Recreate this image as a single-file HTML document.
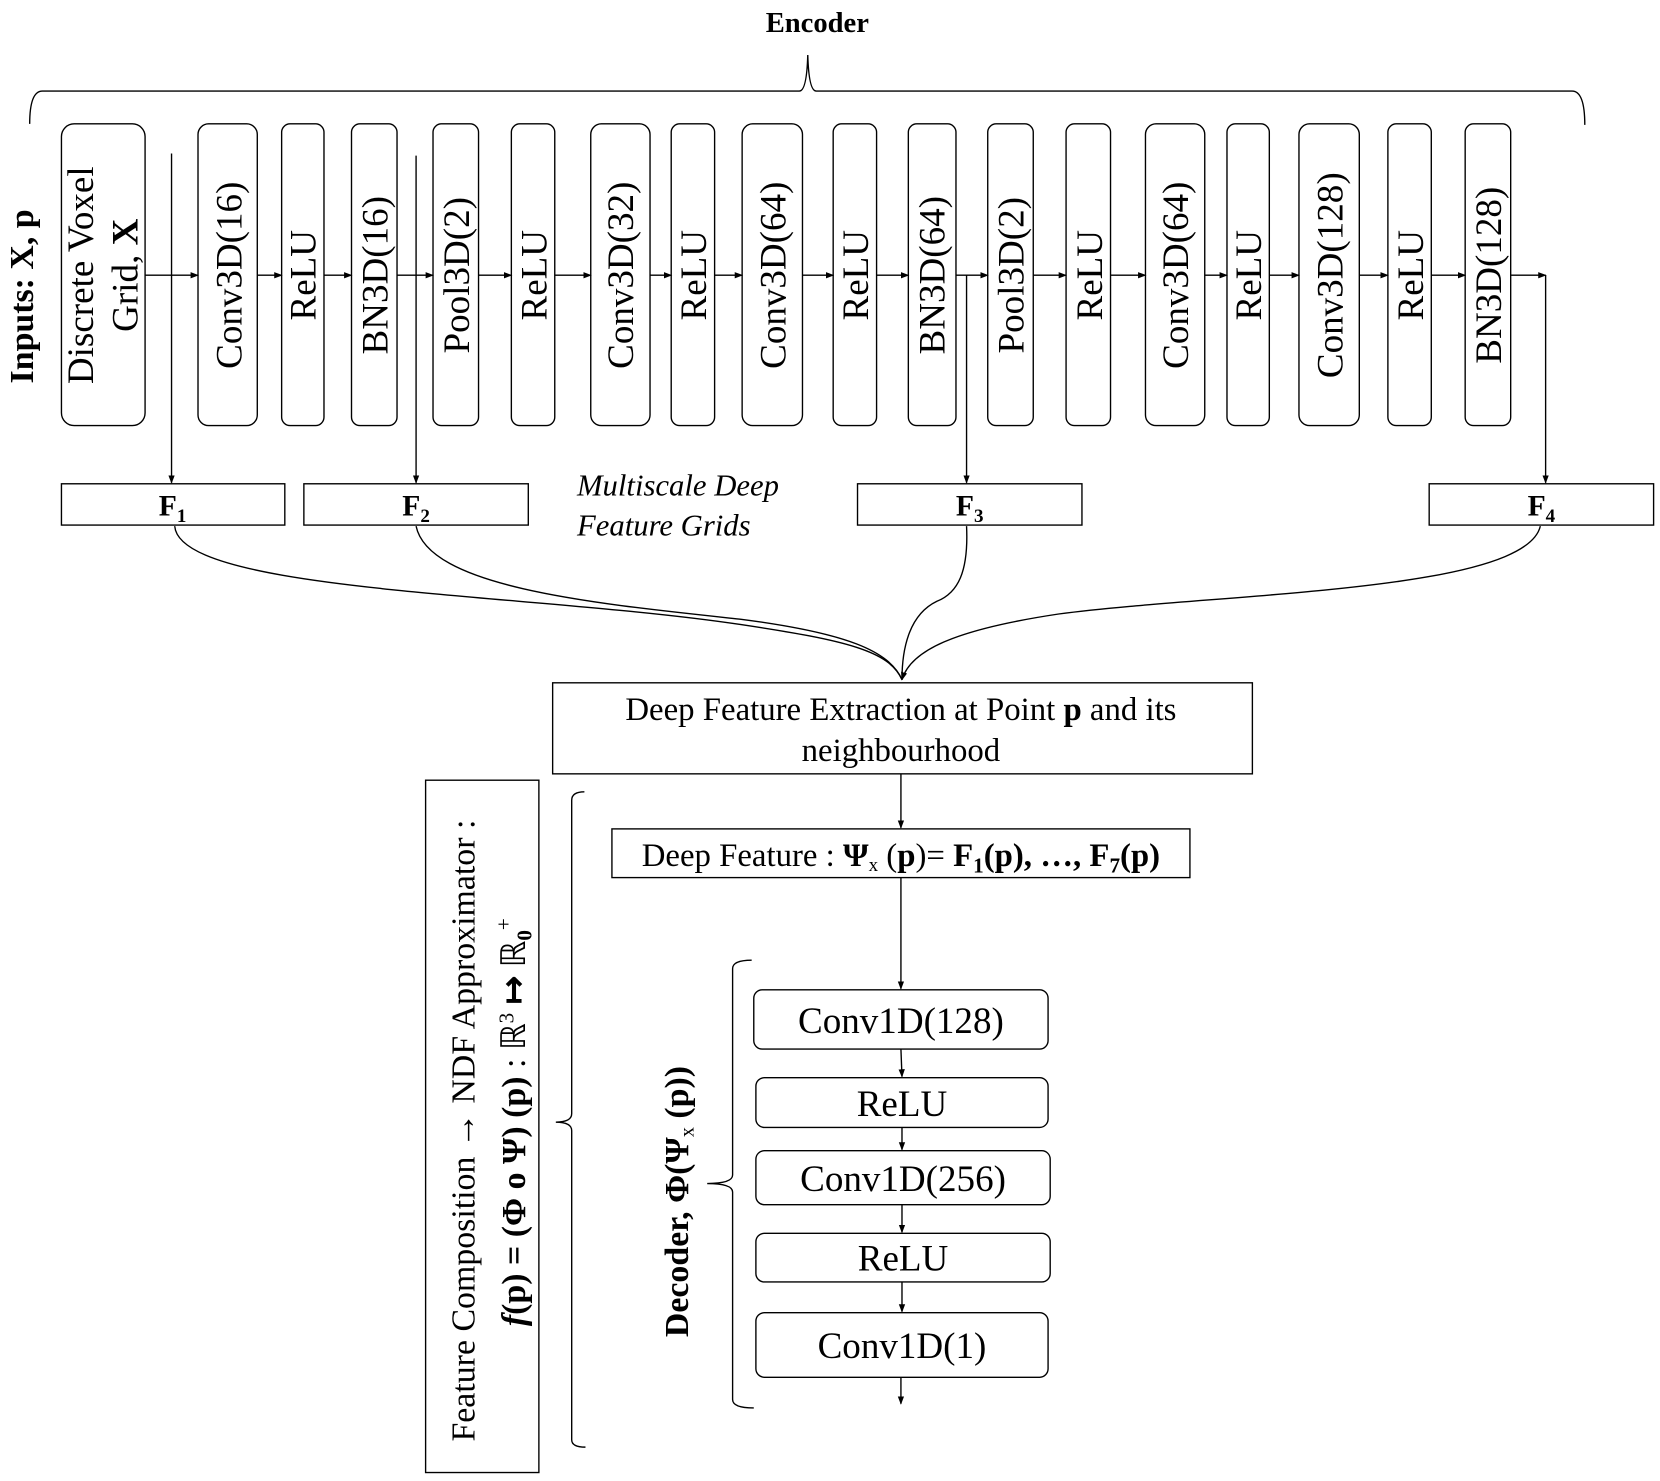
<!DOCTYPE html>
<html><head><meta charset="utf-8"><style>html,body{margin:0;padding:0;background:#fff}svg{display:block}</style></head>
<body>
<svg width="1660" height="1481" viewBox="0 0 1568 1399" xmlns="http://www.w3.org/2000/svg" font-family="'Liberation Serif', serif">
<defs><marker id="a" markerWidth="8" markerHeight="8" refX="7" refY="4" orient="auto" markerUnits="userSpaceOnUse"><path d="M0,1 L8,4 L0,7 z" fill="#000"/></marker></defs>
<g fill="none" stroke="#000" stroke-width="1.3">
<text x="772" y="30" font-size="27" font-weight="bold" text-anchor="middle" fill="#000" stroke="none">Encoder</text>
<path d="M28,117 Q28,86 40,86 L755,86 Q762,86 763,52 Q764,86 771,86 L1485,86 Q1497,86 1497,118"/>
<g>
<rect x="58" y="117" width="79" height="285" rx="12"/>
<rect x="187" y="117" width="56" height="285" rx="10"/>
<rect x="266" y="117" width="40" height="285" rx="8"/>
<rect x="332" y="117" width="43" height="285" rx="8"/>
<rect x="409" y="117" width="43" height="285" rx="8"/>
<rect x="483" y="117" width="41" height="285" rx="8"/>
<rect x="558" y="117" width="56" height="285" rx="10"/>
<rect x="634" y="117" width="41" height="285" rx="8"/>
<rect x="701" y="117" width="57" height="285" rx="10"/>
<rect x="787" y="117" width="41" height="285" rx="8"/>
<rect x="858" y="117" width="45" height="285" rx="8"/>
<rect x="933" y="117" width="43" height="285" rx="8"/>
<rect x="1007" y="117" width="42" height="285" rx="8"/>
<rect x="1082" y="117" width="56" height="285" rx="10"/>
<rect x="1159" y="117" width="40" height="285" rx="8"/>
<rect x="1227" y="117" width="57" height="285" rx="10"/>
<rect x="1311" y="117" width="41" height="285" rx="8"/>
<rect x="1384" y="117" width="43" height="285" rx="8"/>
</g>
<g marker-end="url(#a)">
<line x1="137" y1="260" x2="187" y2="260"/><line x1="243" y1="260" x2="266" y2="260"/>
<line x1="306" y1="260" x2="332" y2="260"/><line x1="375" y1="260" x2="409" y2="260"/>
<line x1="452" y1="260" x2="483" y2="260"/><line x1="524" y1="260" x2="558" y2="260"/>
<line x1="614" y1="260" x2="634" y2="260"/><line x1="675" y1="260" x2="701" y2="260"/>
<line x1="758" y1="260" x2="787" y2="260"/><line x1="828" y1="260" x2="858" y2="260"/>
<line x1="903" y1="260" x2="933" y2="260"/><line x1="976" y1="260" x2="1007" y2="260"/>
<line x1="1049" y1="260" x2="1082" y2="260"/><line x1="1138" y1="260" x2="1159" y2="260"/>
<line x1="1199" y1="260" x2="1227" y2="260"/><line x1="1284" y1="260" x2="1311" y2="260"/>
<line x1="1352" y1="260" x2="1384" y2="260"/><line x1="1427" y1="260" x2="1460" y2="260"/>
<line x1="162" y1="145" x2="162" y2="456"/><line x1="393" y1="147" x2="393" y2="456"/>
<line x1="913" y1="260" x2="913" y2="456"/><line x1="1460" y1="260" x2="1460" y2="456"/>
</g>
<rect x="58" y="457" width="211" height="39"/><rect x="287" y="457" width="212" height="39"/>
<rect x="810" y="457" width="212" height="39"/><rect x="1350" y="457" width="212" height="39"/>
<path d="M165,497 C170,560 500,560 700,590 C800,605 840,615 852,642"/>
<path d="M393,497 C405,555 560,570 700,585 C800,598 840,615 852,642"/>
<path d="M913,497 C915,540 905,560 885,568 C860,580 852,610 852,642"/>
<path d="M1455,497 C1440,560 1150,560 1000,580 C900,595 860,615 852,642" marker-end="url(#a)"/>
<rect x="522" y="645" width="661" height="86"/>
<line x1="851" y1="731" x2="851" y2="782" marker-end="url(#a)"/>
<rect x="578" y="783" width="546" height="46"/>
<line x1="851" y1="829" x2="851" y2="934" marker-end="url(#a)"/>
<rect x="712" y="935" width="278" height="56" rx="8"/>
<rect x="714" y="1018" width="276" height="47" rx="8"/>
<rect x="714" y="1087" width="278" height="51" rx="8"/>
<rect x="714" y="1165" width="278" height="46" rx="8"/>
<rect x="714" y="1240" width="276" height="61" rx="8"/>
<g marker-end="url(#a)">
<line x1="851" y1="991" x2="852" y2="1017"/><line x1="852" y1="1065" x2="852" y2="1086"/>
<line x1="852" y1="1138" x2="852" y2="1164"/><line x1="852" y1="1211" x2="852" y2="1239"/>
<line x1="851" y1="1301" x2="851" y2="1326"/>
</g>
<path d="M710,907 Q692,907 692,915 L692,1110 Q692,1118 668,1118 Q692,1118 692,1126 L692,1322 Q692,1330 712,1330"/>
<path d="M552,748 Q540,748 540,756 L540,1052 Q540,1060 525,1060 Q540,1060 540,1068 L540,1360 Q540,1367 553,1367"/>
<rect x="402" y="737" width="107" height="654"/>
</g>
<g fill="#000" font-size="34" text-anchor="middle">
<g font-size="35">
<text transform="translate(88,260) rotate(-90)">Discrete Voxel</text>
<text transform="translate(130,260) rotate(-90)">Grid, <tspan font-weight="bold">X</tspan></text>
<text transform="translate(228,260) rotate(-90)">Conv3D(16)</text>
<text transform="translate(298,260) rotate(-90)">ReLU</text>
<text transform="translate(366,260) rotate(-90)">BN3D(16)</text>
<text transform="translate(443,260) rotate(-90)">Pool3D(2)</text>
<text transform="translate(516,260) rotate(-90)">ReLU</text>
<text transform="translate(598,260) rotate(-90)">Conv3D(32)</text>
<text transform="translate(667,260) rotate(-90)">ReLU</text>
<text transform="translate(742,260) rotate(-90)">Conv3D(64)</text>
<text transform="translate(820,260) rotate(-90)">ReLU</text>
<text transform="translate(892,260) rotate(-90)">BN3D(64)</text>
<text transform="translate(967,260) rotate(-90)">Pool3D(2)</text>
<text transform="translate(1041,260) rotate(-90)">ReLU</text>
<text transform="translate(1122,260) rotate(-90)">Conv3D(64)</text>
<text transform="translate(1191,260) rotate(-90)">ReLU</text>
<text transform="translate(1268,260) rotate(-90)">Conv3D(128)</text>
<text transform="translate(1344,260) rotate(-90)">ReLU</text>
<text transform="translate(1418,260) rotate(-90)">BN3D(128)</text>
</g>
<text transform="translate(31,280) rotate(-90)" font-size="32" font-weight="bold">Inputs:  X, p</text>
<g font-size="28" font-weight="bold">
<text x="163" y="487">F<tspan font-size="18" dy="6">1</tspan></text>
<text x="393" y="487">F<tspan font-size="18" dy="6">2</tspan></text>
<text x="916" y="487">F<tspan font-size="18" dy="6">3</tspan></text>
<text x="1456" y="487">F<tspan font-size="18" dy="6">4</tspan></text>
</g>
<text x="545" y="468" font-size="29" font-style="italic" text-anchor="start">Multiscale Deep</text>
<text x="545" y="506" font-size="29" font-style="italic" text-anchor="start">Feature Grids</text>
<text x="851" y="680" font-size="31">Deep Feature Extraction at Point <tspan font-weight="bold">p</tspan> and its</text>
<text x="851" y="719" font-size="31">neighbourhood</text>
<text x="851" y="818" font-size="31">Deep Feature : <tspan font-weight="bold">Ψ</tspan><tspan font-size="18" dy="5">x</tspan><tspan dy="-5"> (</tspan><tspan font-weight="bold">p</tspan>)= <tspan font-weight="bold">F<tspan font-size="20" dy="6">1</tspan><tspan dy="-6">(p), …, F</tspan><tspan font-size="20" dy="6">7</tspan><tspan dy="-6">(p)</tspan></tspan></text>
<g font-size="35">
<text x="851" y="976">Conv1D(128)</text>
<text x="852" y="1054">ReLU</text>
<text x="853" y="1125">Conv1D(256)</text>
<text x="853" y="1200">ReLU</text>
<text x="852" y="1283">Conv1D(1)</text>
</g>
<text transform="translate(650,1135) rotate(-90)" font-size="32" font-weight="bold">Decoder,  Φ(Ψ<tspan font-size="19" font-weight="normal" dy="5">x</tspan><tspan dy="-5"> (p))</tspan></text>
<text transform="translate(448,1068) rotate(-90)" font-size="32">Feature Composition <tspan font-weight="bold" font-size="34">→</tspan> NDF Approximator :</text>
<text transform="translate(496,1060) rotate(-90)" font-size="32"><tspan font-weight="bold" font-style="italic">f</tspan><tspan font-weight="bold">(p) = (Φ o Ψ) (p)</tspan> : ℝ<tspan font-size="20" dy="-11">3</tspan><tspan dy="11"> </tspan><tspan font-weight="bold">↦</tspan> ℝ<tspan font-size="20" dy="6" font-weight="bold">0</tspan><tspan font-size="20" dy="-20">+</tspan></text>
</g>
</svg>
</body></html>
